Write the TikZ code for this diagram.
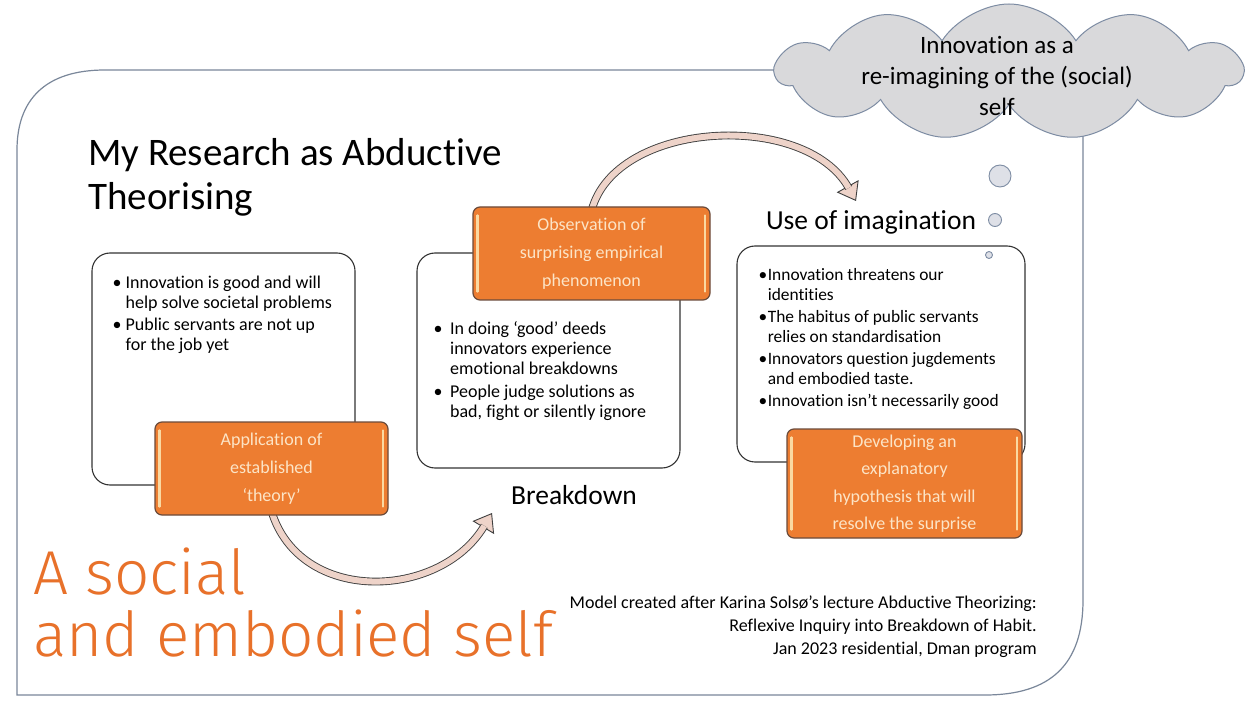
\documentclass[tikz,border=0pt]{standalone}
\usepackage{fontspec}
\setmainfont{Carlito}[Ligatures=NoCommon]
\newfontfamily\handfont{Fira Sans Light}
\usetikzlibrary{shapes.symbols,arrows.meta}

\definecolor{framecol}{HTML}{7A879A}
\definecolor{cloudfill}{HTML}{D9D9DB}
\definecolor{cloudline}{HTML}{7D8CA3}
\definecolor{bubblefill}{HTML}{DEE0E7}
\definecolor{boxline}{HTML}{333333}
\definecolor{stepfill}{HTML}{ED7D31}
\definecolor{stepline}{HTML}{6B4B3B}
\definecolor{steptext}{HTML}{FCE4C6}
\definecolor{stepshine}{HTML}{FAD9A2}
\definecolor{arrowfill}{HTML}{EED3C9}
\definecolor{arrowline}{HTML}{3F3F3F}
\definecolor{inkorange}{HTML}{E8712A}

\tikzset{
  whitebox/.style={draw=boxline, line width=1.1pt, fill=white, rounded corners=18pt, inner sep=0pt},
  stepbox/.style={draw=stepline, line width=1.2pt, fill=stepfill, rounded corners=7pt,
    text=steptext, align=center, font=\fontsize{18}{28}\selectfont, inner sep=0pt},
  shine/.style={draw=stepshine, line width=2.2pt, line cap=round},
  bullettext/.style={anchor=base west, inner sep=0pt},
  bubble/.style={circle, draw=cloudline, fill=bubblefill, line width=0.9pt, inner sep=0pt},
  arrowtipstroke/.style={draw=arrowline, line width=0.9pt,
    -{Triangle[length=17pt,width=25pt,fill=arrowfill]}},
  arrowshaft/.style={draw=arrowline, line width=0.9pt, double=arrowfill,
    double distance=6pt, shorten >=15pt},
  handwriting/.style={anchor=base west, inner sep=0pt, text=inkorange,
    font=\handfont\fontsize{62}{62}\selectfont},
  stagelabel/.style={font=\fontsize{27.5}{32}\selectfont},
}

\begin{document}
\begin{tikzpicture}[x=1pt,y=-1pt]
\useasboundingbox (0,0) rectangle (1253,708);
\fill[white] (0,0) rectangle (1253,708);

% outer frame with two rounded corners
\draw[framecol, line width=1.2pt]
  (17,695) -- (17,150) .. controls (17,100) and (45,70) .. (105,70)
  -- (1083,70) -- (1083,600) .. controls (1083,665) and (1050,695) .. (985,695) -- cycle;

% thought cloud and its bubbles
\node[cloud, cloud puffs=11, cloud puff arc=115, cloud ignores aspect,
      minimum width=466pt, minimum height=136pt,
      fill=cloudfill, draw=cloudline, line width=1pt] (cloud) at (1009,72) {};
\node[align=center, font=\fontsize{25}{31}\selectfont] (cloudtext) at (997,76)
  {Innovation as a\\re-imagining of the (social)\\self};
\node[bubble, minimum size=22pt] (bub1) at (1000,176) {};
\node[bubble, minimum size=13pt] (bub2) at (995,220) {};

% title
\node[anchor=base west, inner sep=0pt, font=\fontsize{39}{44}\selectfont] (title) at (88,166)
  {\begin{tabular}[t]{@{}l@{}}My Research as Abductive\\Theorising\end{tabular}};

% white content boxes
\node[whitebox, minimum width=263pt, minimum height=232pt] (prior) at (223.5,369) {};
\node[whitebox, minimum width=263pt, minimum height=215pt] (surprise) at (548.5,360.5) {};
\node[whitebox, minimum width=288pt, minimum height=216pt] (insight) at (881,354) {};
\node[bubble, minimum size=7pt] (bub3) at (989,255) {};

% bullet texts
\node[bullettext, font=\fontsize{18}{20}\selectfont] (priortext) at (112.5,289)
  {\begin{tabular}[t]{@{}l@{\hspace{4pt}}l@{}}
   \textbullet & Innovation is good and will\\
               & help solve societal problems\\[2pt]
   \textbullet & Public servants are not up\\
               & for the job yet
   \end{tabular}};
\node[bullettext, font=\fontsize{18}{20}\selectfont] (surprisetext) at (433.5,335)
  {\begin{tabular}[t]{@{}l@{\hspace{7.5pt}}l@{}}
   \textbullet & In doing ‘good’ deeds\\
               & innovators experience\\
               & emotional breakdowns\\[3pt]
   \textbullet & People judge solutions as\\
               & bad, fight or silently ignore
   \end{tabular}};
\node[bullettext, font=\fontsize{17.4}{20}\selectfont] (insighttext) at (758.5,281)
  {\begin{tabular}[t]{@{}l@{\hspace{0.5pt}}l@{}}
   \textbullet & Innovation threatens our\\
               & identities\\[2pt]
   \textbullet & The habitus of public servants\\
               & relies on standardisation\\[2pt]
   \textbullet & Innovators question jugdements\\
               & and embodied taste.\\[2pt]
   \textbullet & Innovation isn’t necessarily good
   \end{tabular}};

% stage labels
\node[stagelabel] (breakdown) at (574,495) {Breakdown};
\node[stagelabel] (imagine) at (871,222) {Use of imagination};

% slots for the orange step boxes, so the curved arrows can start beneath them
\coordinate (tip1) at (492,513);
\coordinate (tip2) at (856,201);
\path (271.5,468.5) coordinate (applyc) (591.5,253.5) coordinate (obsc);
\node[minimum width=233pt, minimum height=93pt, inner sep=0pt] (applyslot) at (applyc) {};
\node[minimum width=237pt, minimum height=93pt, inner sep=0pt] (obsslot) at (obsc) {};

% curved block arrows
\draw[arrowtipstroke] ([yshift=4pt]applyslot.south) .. controls (300,605) and (440,600) .. (tip1);
\draw[arrowshaft] ([yshift=4pt]applyslot.south) .. controls (300,605) and (440,600) .. (tip1);
\draw[arrowtipstroke] ([yshift=-4pt]obsslot.north) .. controls (615,120) and (805,110) .. (tip2);
\draw[arrowshaft] ([yshift=-4pt]obsslot.north) .. controls (615,120) and (805,110) .. (tip2);

% orange step boxes
\node[stepbox, minimum width=233pt, minimum height=93pt] (apply) at (applyc)
  {Application of\\established\\‘theory’};
\node[stepbox, minimum width=237pt, minimum height=93pt] (obs) at (obsc)
  {Observation of\\surprising empirical\\phenomenon};
\node[stepbox, minimum width=235pt, minimum height=109pt, font=\fontsize{18}{27.5}\selectfont] (hyp) at (904.5,483.5)
  {Developing an\\explanatory\\hypothesis that will\\resolve the surprise};
\foreach \b in {apply,obs,hyp} {
  \draw[shine] ([xshift=5pt,yshift=-9pt]\b.north west) -- ([xshift=5pt,yshift=9pt]\b.south west);
  \draw[shine] ([xshift=-6pt,yshift=-9pt]\b.north east) -- ([xshift=-6pt,yshift=9pt]\b.south east);
}

% credits
\node[anchor=base east, inner sep=0pt, font=\fontsize{18}{23}\selectfont] (credit) at (1037,608)
  {\begin{tabular}[t]{@{}r@{}}
   Model created after Karina Solsø’s lecture Abductive Theorizing:\\
   Reflexive Inquiry into Breakdown of Habit.\\
   Jan 2023 residential, Dman program
   \end{tabular}};

% handwritten note
\node[handwriting] (hand1) at (33,594) {A social};
\node[handwriting] (hand2) at (33,656) {and embodied self};
\end{tikzpicture}
\end{document}
